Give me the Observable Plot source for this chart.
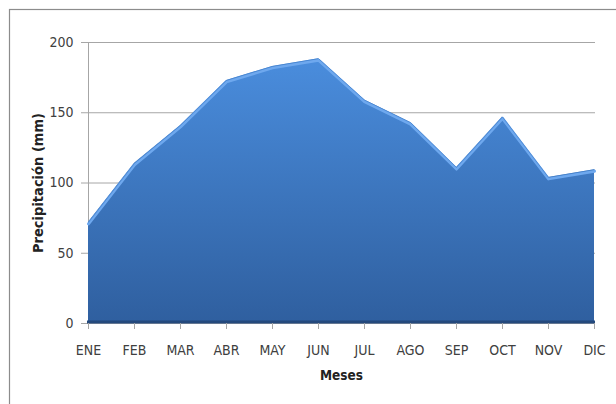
<!DOCTYPE html>
<html>
<head>
<meta charset="utf-8">
<script src="https://cdn.jsdelivr.net/npm/d3@7"></script>
<script src="https://cdn.jsdelivr.net/npm/@observablehq/plot@0.6"></script>
<style>
  html, body { margin: 0; padding: 0; background: #fff; }
  #chart { width: 616px; height: 404px; overflow: hidden; }
</style>
</head>
<body>
<div id="chart"></div>
<script>
// Monthly precipitation (mm)
const months = ["ENE", "FEB", "MAR", "ABR", "MAY", "JUN", "JUL", "AGO", "SEP", "OCT", "NOV", "DIC"];
const precipitation = [72, 114, 141, 173, 183, 188.5, 159, 143, 111, 147, 104, 109.5];
const yTicks = [0, 50, 100, 150, 200];

const data = months.map((m, i) => ({ month: m, value: precipitation[i] }));

const tickFont = "'Liberation Sans Narrow', 'DejaVu Sans Condensed', sans-serif";
const titleFont = "'DejaVu Sans Condensed', 'DejaVu Sans', sans-serif";

const chart = Plot.plot({
  width: 616,
  height: 404,
  marginLeft: 87,
  marginRight: 21,
  marginTop: 42,
  marginBottom: 81,
  style: { fontFamily: tickFont, fontSize: "14px", color: "#404040", background: "transparent" },
  x: { type: "point", domain: months, padding: 0 },
  y: { domain: [0, 200] },
  marks: [
    // horizontal gridlines
    Plot.ruleY(yTicks, { stroke: "#a6a6a6", strokeWidth: 1 }),
    // vertical axis line
    Plot.ruleX([months[0]], { stroke: "#a6a6a6", strokeWidth: 1 }),
    // filled area with a vertical gradient
    Plot.areaY(data, { x: "month", y: "value", fill: "url(#precipGrad)" }),
    // light bevel along the top edge
    Plot.lineY(data, { x: "month", y: "value", stroke: "#6ea8ee", strokeWidth: 3, dy: 1.5 }),
    Plot.lineY(data, { x: "month", y: "value", stroke: "#3f7cc8", strokeWidth: 0.8, strokeOpacity: 0.8 }),
    // dark shadow at the base of the area
    Plot.ruleY([0], { stroke: "#24497c", strokeWidth: 3, dy: -1.5 }),
    Plot.axisY({
      ticks: yTicks, tickSize: 6, tickPadding: 8, stroke: "#a6a6a6", fontSize: 14,
      label: "Precipitación (mm)", labelAnchor: "center", labelArrow: "none", labelOffset: 55
    }),
    Plot.axisX({
      tickSize: 6, tickPadding: 16, stroke: "#a6a6a6", fontSize: 14,
      label: "Meses", labelAnchor: "center", labelArrow: "none", labelOffset: 56
    })
  ]
});

// gradient definition and outer border
const svg = d3.select(chart);
const defs = svg.insert("defs", ":first-child");
const grad = defs.append("linearGradient")
  .attr("id", "precipGrad")
  .attr("x1", 0).attr("y1", 0).attr("x2", 0).attr("y2", 1);
grad.append("stop").attr("offset", "0%").attr("stop-color", "#4a8ddd");
grad.append("stop").attr("offset", "100%").attr("stop-color", "#2f5f9f");

svg.insert("rect", "defs + *")
  .attr("x", 9.5).attr("y", 9.5)
  .attr("width", 800).attr("height", 600)
  .attr("fill", "none").attr("stroke", "#8c8c8c").attr("stroke-width", 1.2);

// axis titles in bold
svg.selectAll("[aria-label='y-axis label']")
  .attr("font-family", titleFont).attr("font-weight", "bold").attr("fill", "#222").attr("font-size", 14.5);
svg.selectAll("[aria-label='x-axis label']")
  .attr("font-family", titleFont).attr("font-weight", "bold").attr("fill", "#222").attr("font-size", 13.5);
svg.selectAll("[aria-label='y-axis tick label'], [aria-label='x-axis tick label']")
  .attr("fill", "#404040");

document.getElementById("chart").appendChild(chart);
</script>
</body>
</html>
